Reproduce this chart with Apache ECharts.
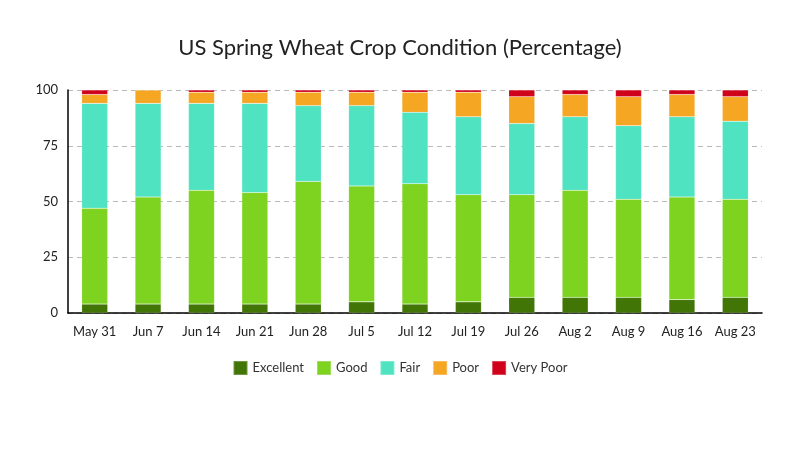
<!DOCTYPE html>
<html lang="en">
<head>
    <meta charset="UTF-8">
    <title>US Spring Wheat Crop Condition</title>
    <script src="https://cdn.jsdelivr.net/npm/echarts@6/dist/echarts.min.js"></script>
    <style>
        html, body { margin: 0; padding: 0; background: #fff; }
        #chart { width: 800px; height: 450px; }
    </style>
</head>
<body>
<div id="chart"></div>
<script type="text/javascript">
    var weeks = ["May 31", "Jun 7", "Jun 14", "Jun 21", "Jun 28", "Jul 5", "Jul 12", "Jul 19", "Jul 26", "Aug 2", "Aug 9", "Aug 16", "Aug 23"];
    var excellent = [4, 4, 4, 4, 4, 5, 4, 5, 7, 7, 7, 6, 7];
    var good      = [43, 48, 51, 50, 55, 52, 54, 48, 46, 48, 44, 46, 44];
    var fair      = [47, 42, 39, 40, 34, 36, 32, 35, 32, 33, 33, 36, 35];
    var poor      = [4, 6, 5, 5, 6, 6, 9, 11, 12, 10, 13, 10, 11];
    var veryPoor  = [2, 0, 1, 1, 1, 1, 1, 1, 3, 2, 3, 2, 3];
    var yTicks    = [0, 25, 50, 75, 100];

    var names  = ["Excellent", "Good", "Fair", "Poor", "Very Poor"];
    var colors = ["#417505", "#7ED321", "#50E3C2", "#F5A623", "#D0021B"];
    var values = [excellent, good, fair, poor, veryPoor];

    var font = "Lato, 'Noto Sans', sans-serif";
    var chart = echarts.init(document.getElementById('chart'));

    var series = names.map(function (n, i) {
        return {
            name: n,
            type: 'bar',
            stack: 'total',
            barWidth: 26,
            data: values[i],
            itemStyle: { color: colors[i], borderColor: 'rgba(255,255,255,0.25)', borderWidth: 0.5 }
        };
    });

    chart.setOption({
        animation: false,
        color: colors,
        title: {
            text: 'US Spring Wheat Crop Condition (Percentage)',
            left: 'center',
            top: 32,
            textStyle: { fontFamily: font, fontSize: 22, fontWeight: 'normal', color: '#222' }
        },
        legend: {
            bottom: 69,
            left: 'center',
            itemWidth: 14,
            itemHeight: 14,
            itemGap: 12,
            icon: 'rect',
            textStyle: { fontFamily: font, fontSize: 13, color: '#333' },
            data: names
        },
        grid: { left: 68, right: 38, top: 90, bottom: 137 },
        xAxis: {
            type: 'category',
            data: weeks,
            axisLine: { lineStyle: { color: '#000', width: 1.5 } },
            axisTick: { show: false },
            axisLabel: { fontFamily: font, fontSize: 13, color: '#222', margin: 12, interval: 0 }
        },
        yAxis: {
            type: 'value',
            min: yTicks[0],
            max: yTicks[yTicks.length - 1],
            interval: 25,
            axisLine: { show: true, lineStyle: { color: '#000', width: 1.5 } },
            axisTick: { show: false },
            axisLabel: { fontFamily: font, fontSize: 13, color: '#222', margin: 10 },
            splitLine: { lineStyle: { color: '#bbb', type: [5, 4] } }
        },
        series: series
    });
</script>
</body>
</html>
